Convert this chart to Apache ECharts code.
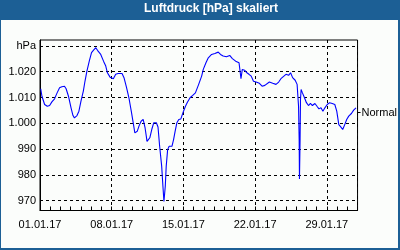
<!DOCTYPE html>
<html><head><meta charset="utf-8">
<script src="https://cdn.jsdelivr.net/npm/echarts@6/dist/echarts.min.js"></script>
<style>
html,body{margin:0;padding:0;background:#fff;}
#wrap{position:relative;width:400px;height:250px;background:#1c5f95;overflow:hidden;}
#inner{position:absolute;left:1px;top:20px;width:397px;height:228px;background:#fbfdfb;}
#chart{position:absolute;left:0;top:0;width:400px;height:250px;}
</style></head>
<body>
<div id="wrap"><div id="inner"></div><div id="chart"></div></div>
<script>
// days since 01.01.2017 00:00
const days = [0.07,0.19,0.45,0.71,0.94,1.16,1.42,1.67,1.91,2.13,2.39,2.55,2.78,3.03,3.22,3.36,3.61,3.80,4.00,4.23,4.39,4.58,4.81,5.03,5.23,5.45,5.61,5.93,6.20,6.42,6.58,6.84,7.16,7.39,7.62,
7.81,8.01,8.20,8.45,8.68,8.91,9.10,9.26,9.49,9.68,9.87,10.07,10.26,10.45,10.58,10.72,10.91,11.10,11.36,11.52,11.68,11.88,12.00,12.10,12.23,12.32,12.46,12.61,12.88,13.04,13.19,13.36,13.55,13.75,14.01,14.20,14.39,14.65,14.91,15.17,15.49,
15.56,15.78,15.94,16.20,16.43,16.75,17.07,17.40,17.62,17.88,18.20,18.52,18.78,19.10,19.43,19.55,19.62,19.75,19.97,20.20,20.40,20.62,20.84,21.10,21.42,21.68,21.95,22.14,22.39,22.72,23.04,23.23,
23.30,23.52,23.75,24.01,24.27,24.46,24.66,24.91,25.10,25.24,25.30,25.33,25.39,25.43,25.49,25.62,25.82,26.01,26.21,26.40,26.59,26.84,27.04,27.23,27.43,27.62,27.81,28.04,28.27,28.53,28.78,28.97,29.17,29.36,29.55,29.75,29.94,30.14,30.40,30.62,30.85];
const pressure = [1013.4,1010.5,1007.3,1006.6,1006.9,1008.3,1009.5,1011.8,1013.8,1014.2,1014.4,1013.4,1010.5,1006.0,1003.0,1002.1,1003.0,1004.7,1008.6,1012.5,1016.3,1020.2,1024.1,1027.4,1028.4,1029.3,1028.3,1026.7,1024.1,1022.2,1019.6,1017.9,1017.3,1019.0,1019.3,
1019.8,1019.3,1017.7,1013.8,1009.9,1004.7,1000.2,996.3,996.9,999.1,1000.8,1001.5,998.2,993.0,992.4,994.4,997.6,1000.2,1000.2,998.6,991.1,983.3,975.6,969.7,975.6,983.3,989.8,991.1,991.1,993.7,996.9,1000.2,1001.5,1001.7,1004.7,1006.6,1008.2,1009.9,1010.8,1011.8,1015.1,
1015.7,1018.3,1020.9,1023.5,1025.4,1026.7,1027.1,1027.6,1026.7,1026.1,1025.8,1026.3,1025.1,1024.1,1023.5,1019.6,1017.3,1020.9,1020.6,1019.6,1019.0,1018.3,1016.3,1016.0,1015.5,1014.4,1014.7,1014.2,1016.0,1015.5,1015.1,1014.4,
1016.0,1017.3,1018.1,1019.0,1018.6,1019.6,1017.7,1016.7,1015.1,1006.6,993.7,978.4,993.7,1009.2,1013.1,1011.8,1009.9,1008.0,1006.9,1007.7,1006.9,1007.7,1006.6,1005.6,1006.0,1004.7,1006.0,1007.3,1008.0,1007.7,1007.3,1004.7,999.5,998.6,997.6,999.5,1001.5,1002.8,1003.8,1005.1,1006.0];
const yTicks = [970,980,990,1000,1010,1020,1030];
const yTickLabels = ['970','980','990','1.000','1.010','1.020','hPa'];
const normalValue = [1004.1];
const normalLabel = 'Normal';
const xLabelDays = [0,7,14,21,28];
const xLabels = ['01.01.17','08.01.17','15.01.17','22.01.17','29.01.17'];
const titleText = 'Luftdruck [hPa] skaliert';

const FONT = 'Liberation Sans';
const chart = echarts.init(document.getElementById('chart'), null, {renderer:'canvas'});
const yMin = 966.2, yMax = 1032.3;
chart.setOption({
  animation:false,
  backgroundColor:'transparent',
  title:{text:titleText,left:144,top:3,padding:0,
    textStyle:{color:'#ffffff',fontSize:12,fontWeight:'bold',fontFamily:FONT}},
  grid:{left:40,right:40,top:40,bottom:39.5,show:true,borderColor:'#000',borderWidth:1,backgroundColor:'transparent'},
  xAxis:{type:'value',min:0,max:31,interval:7,
    axisLine:{show:true,lineStyle:{color:'#000',width:1}},
    axisTick:{show:true,inside:true,length:4,lineStyle:{color:'#000'}},
    minorTick:{show:true,splitNumber:7,length:4,lineStyle:{color:'#000'}},
    splitLine:{show:true,lineStyle:{color:'#000',type:[3,3],width:1}},
    axisLabel:{color:'#000',fontSize:11,fontFamily:FONT,margin:9,
      formatter:v=>{const i=xLabelDays.indexOf(v);return i>=0?xLabels[i]:'';}}
  },
  yAxis:[{type:'value',min:yMin,max:yMax,
    axisLine:{show:true,lineStyle:{color:'#000'}},
    axisTick:{show:false,customValues:yTicks},
    splitLine:{show:true,lineStyle:{color:'#000',type:[3,3],width:1}},
    axisLabel:{customValues:yTicks,color:'#000',fontSize:11,fontFamily:FONT,margin:4,
      formatter:v=>{const i=yTicks.indexOf(Math.round(v));return i>=0?yTickLabels[i]:'';}}
  },{type:'value',position:'right',min:yMin,max:yMax,
    axisLine:{show:false},
    axisTick:{show:true,length:3,customValues:normalValue,lineStyle:{color:'#000'}},
    splitLine:{show:false},
    axisLabel:{customValues:normalValue,color:'#000',fontSize:11,fontFamily:FONT,margin:4,formatter:()=>normalLabel}
  }],
  series:[{type:'line',data:days.map((d,i)=>[d,pressure[i]]),showSymbol:false,
    lineStyle:{color:'#0000ff',width:1.1},itemStyle:{color:'#0000ff'}}]
});
</script>
</body></html>
